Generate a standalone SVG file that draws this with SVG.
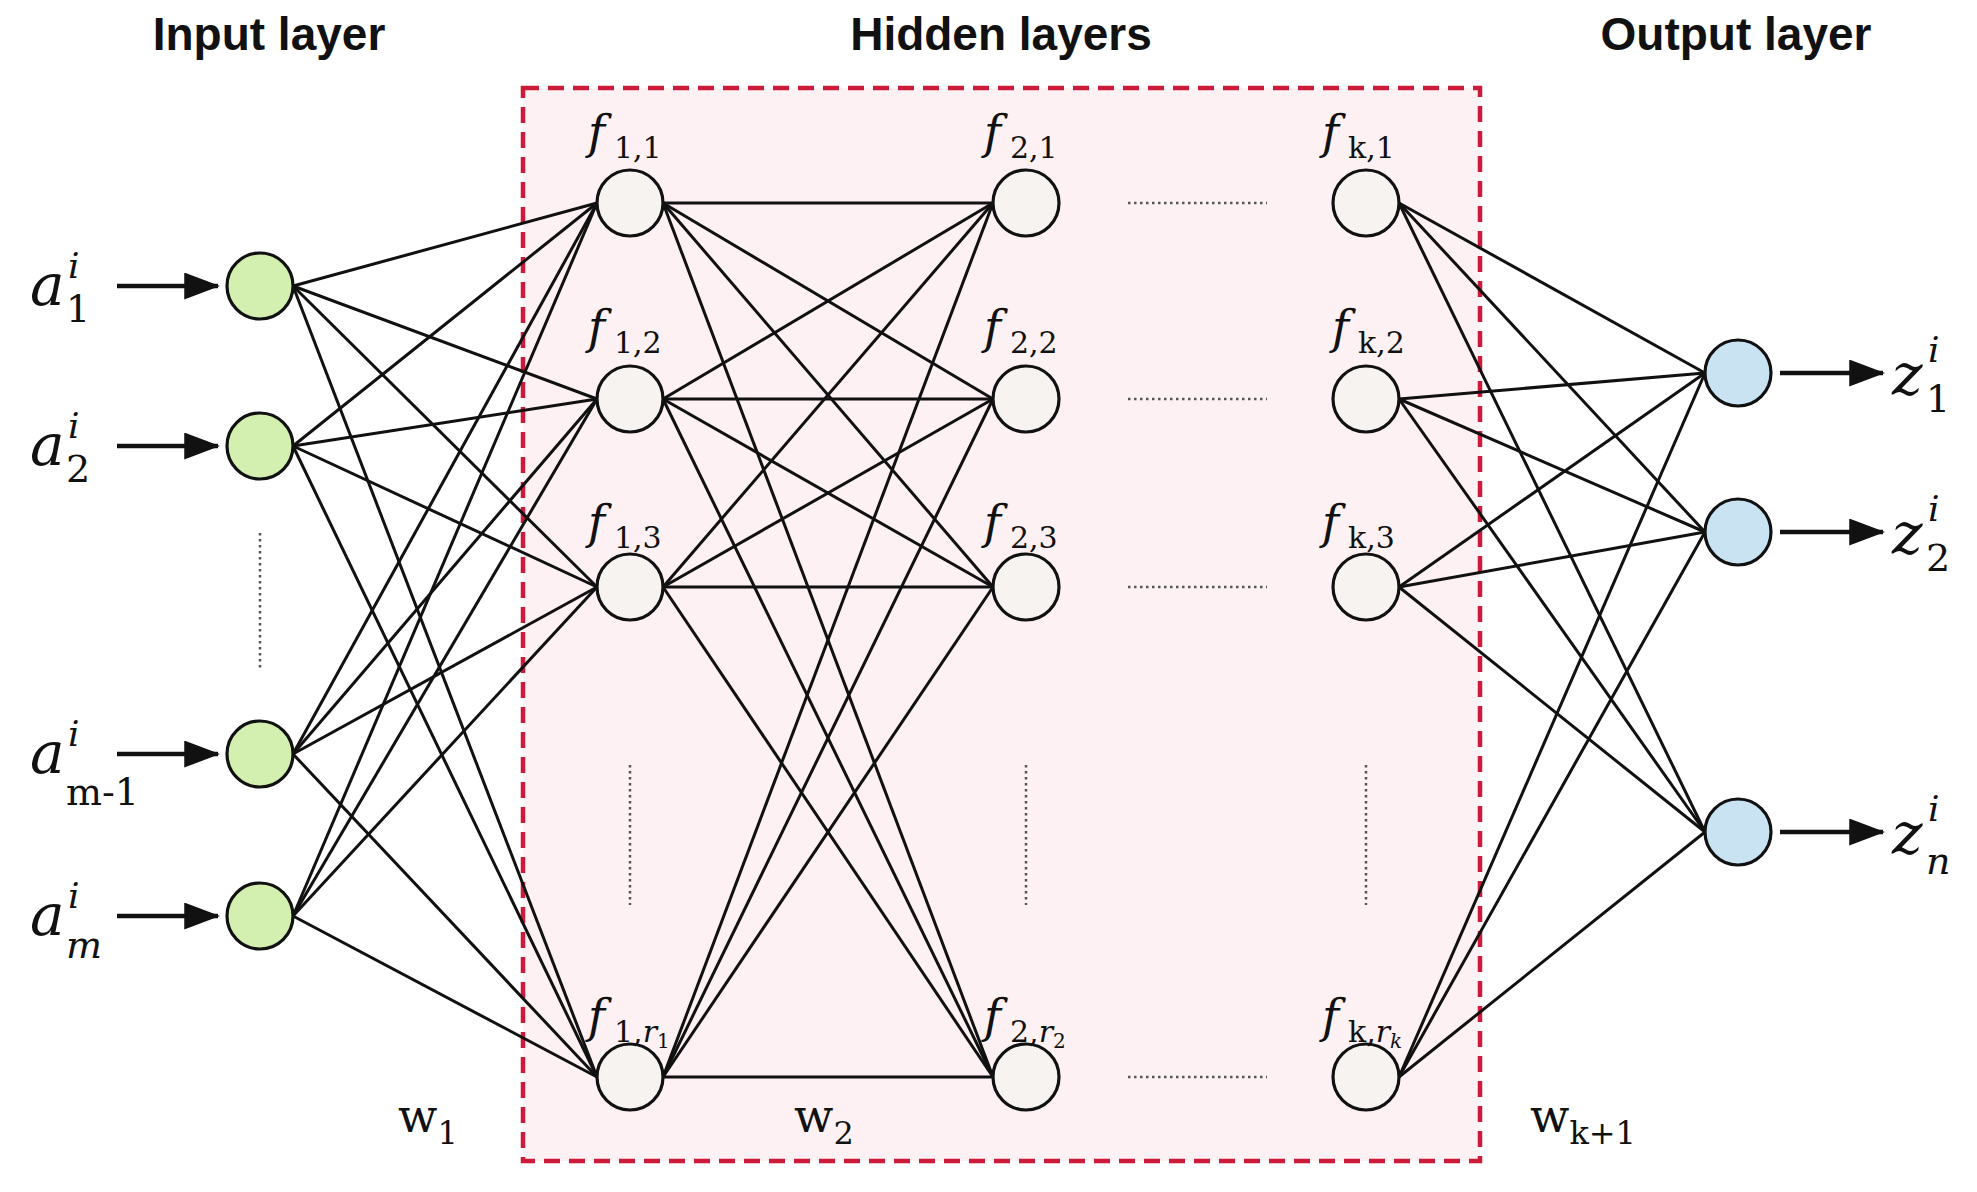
<svg xmlns="http://www.w3.org/2000/svg" width="1977" height="1192" viewBox="0 0 1977 1192">
<style>
.t{font-family:"Liberation Sans",Arial,sans-serif;font-weight:bold;font-size:46px;fill:#111;text-anchor:middle}
.m{font-family:"DejaVu Serif","Liberation Serif",serif;fill:#111}
.e line{stroke:#111;stroke-width:3}
.n{stroke:#111;stroke-width:3.2}
.dot{stroke:#555;stroke-width:2.5;stroke-dasharray:2.5 3.5}
</style>
<defs><marker id="ar" markerWidth="8" markerHeight="6" refX="7.5" refY="3" orient="auto" markerUnits="strokeWidth"><path d="M0,0L8,3L0,6z" fill="#111"/></marker></defs>
<rect width="1977" height="1192" fill="#fff"/>
<rect x="523" y="88" width="957" height="1073" fill="#fdf1f4" stroke="#cc1a3a" stroke-width="4.5" stroke-dasharray="16 9"/>
<text class="t" x="269" y="50">Input layer</text>
<text class="t" x="1001" y="50">Hidden layers</text>
<text class="t" x="1736" y="50">Output layer</text>
<g class="e" id="connectors">
<line x1="293" y1="286" x2="597" y2="203"/><line x1="293" y1="286" x2="597" y2="399"/><line x1="293" y1="286" x2="597" y2="587"/><line x1="293" y1="286" x2="597" y2="1077"/>
<line x1="293" y1="446" x2="597" y2="203"/><line x1="293" y1="446" x2="597" y2="399"/><line x1="293" y1="446" x2="597" y2="587"/><line x1="293" y1="446" x2="597" y2="1077"/>
<line x1="293" y1="754" x2="597" y2="203"/><line x1="293" y1="754" x2="597" y2="399"/><line x1="293" y1="754" x2="597" y2="587"/><line x1="293" y1="754" x2="597" y2="1077"/>
<line x1="293" y1="916" x2="597" y2="203"/><line x1="293" y1="916" x2="597" y2="399"/><line x1="293" y1="916" x2="597" y2="587"/><line x1="293" y1="916" x2="597" y2="1077"/>
<line x1="663" y1="203" x2="993" y2="203"/><line x1="663" y1="203" x2="993" y2="399"/><line x1="663" y1="203" x2="993" y2="587"/><line x1="663" y1="203" x2="993" y2="1077"/>
<line x1="663" y1="399" x2="993" y2="203"/><line x1="663" y1="399" x2="993" y2="399"/><line x1="663" y1="399" x2="993" y2="587"/><line x1="663" y1="399" x2="993" y2="1077"/>
<line x1="663" y1="587" x2="993" y2="203"/><line x1="663" y1="587" x2="993" y2="399"/><line x1="663" y1="587" x2="993" y2="587"/><line x1="663" y1="587" x2="993" y2="1077"/>
<line x1="663" y1="1077" x2="993" y2="203"/><line x1="663" y1="1077" x2="993" y2="399"/><line x1="663" y1="1077" x2="993" y2="587"/><line x1="663" y1="1077" x2="993" y2="1077"/>
<line x1="1399" y1="203" x2="1705" y2="373"/><line x1="1399" y1="203" x2="1705" y2="532"/><line x1="1399" y1="203" x2="1705" y2="832"/>
<line x1="1399" y1="399" x2="1705" y2="373"/><line x1="1399" y1="399" x2="1705" y2="532"/><line x1="1399" y1="399" x2="1705" y2="832"/>
<line x1="1399" y1="587" x2="1705" y2="373"/><line x1="1399" y1="587" x2="1705" y2="532"/><line x1="1399" y1="587" x2="1705" y2="832"/>
<line x1="1399" y1="1077" x2="1705" y2="373"/><line x1="1399" y1="1077" x2="1705" y2="532"/><line x1="1399" y1="1077" x2="1705" y2="832"/>
<g style="stroke-width:4.5"><line x1="117" y1="286" x2="218" y2="286" style="stroke-width:4.5" marker-end="url(#ar)"/><line x1="117" y1="446" x2="218" y2="446" style="stroke-width:4.5" marker-end="url(#ar)"/><line x1="117" y1="754" x2="218" y2="754" style="stroke-width:4.5" marker-end="url(#ar)"/><line x1="117" y1="916" x2="218" y2="916" style="stroke-width:4.5" marker-end="url(#ar)"/>
<line x1="1780" y1="373" x2="1883" y2="373" style="stroke-width:4.5" marker-end="url(#ar)"/><line x1="1780" y1="532" x2="1883" y2="532" style="stroke-width:4.5" marker-end="url(#ar)"/><line x1="1780" y1="832" x2="1883" y2="832" style="stroke-width:4.5" marker-end="url(#ar)"/></g>
</g>
<g id="dots">
<line class="dot" x1="260" y1="533" x2="260" y2="671"/>
<line class="dot" x1="630" y1="765" x2="630" y2="905"/><line class="dot" x1="1026" y1="765" x2="1026" y2="905"/><line class="dot" x1="1366" y1="765" x2="1366" y2="905"/>
<line class="dot" x1="1128" y1="203" x2="1267" y2="203"/><line class="dot" x1="1128" y1="399" x2="1267" y2="399"/><line class="dot" x1="1128" y1="587" x2="1267" y2="587"/><line class="dot" x1="1128" y1="1077" x2="1267" y2="1077"/>
</g>
<g id="input-nodes" fill="#d4f0b0">
<circle id="a1" class="n" cx="260" cy="286" r="33"/><circle id="a2" class="n" cx="260" cy="446" r="33"/><circle id="am1" class="n" cx="260" cy="754" r="33"/><circle id="am" class="n" cx="260" cy="916" r="33"/>
</g>
<g id="hidden-nodes" fill="#f6f3f1">
<circle id="f11" class="n" cx="630" cy="203" r="33"/><circle id="f12" class="n" cx="630" cy="399" r="33"/><circle id="f13" class="n" cx="630" cy="587" r="33"/><circle id="f1r" class="n" cx="630" cy="1077" r="33"/>
<circle id="f21" class="n" cx="1026" cy="203" r="33"/><circle id="f22" class="n" cx="1026" cy="399" r="33"/><circle id="f23" class="n" cx="1026" cy="587" r="33"/><circle id="f2r" class="n" cx="1026" cy="1077" r="33"/>
<circle id="fk1" class="n" cx="1366" cy="203" r="33"/><circle id="fk2" class="n" cx="1366" cy="399" r="33"/><circle id="fk3" class="n" cx="1366" cy="587" r="33"/><circle id="fkr" class="n" cx="1366" cy="1077" r="33"/>
</g>
<g id="output-nodes" fill="#c9e3f3">
<circle id="z1" class="n" cx="1738" cy="373" r="33"/><circle id="z2" class="n" cx="1738" cy="532" r="33"/><circle id="zn" class="n" cx="1738" cy="832" r="33"/>
</g>
<g id="labels" class="m">
<text x="30" y="305" font-size="58" font-style="italic">a</text><text x="68" y="278" font-size="36" font-style="italic">i</text><text x="66" y="322" font-size="38">1</text>
<text x="30" y="465" font-size="58" font-style="italic">a</text><text x="68" y="438" font-size="36" font-style="italic">i</text><text x="66" y="482" font-size="38">2</text>
<text x="30" y="773" font-size="58" font-style="italic">a</text><text x="68" y="746" font-size="36" font-style="italic">i</text><text x="66" y="805" font-size="38">m-1</text>
<text x="30" y="935" font-size="58" font-style="italic">a</text><text x="68" y="908" font-size="36" font-style="italic">i</text><text x="66" y="958" font-size="38" font-style="italic">m</text>
<text x="1892" y="395" font-size="58" font-style="italic">z</text><text x="1928" y="362" font-size="36" font-style="italic">i</text><text x="1926" y="412" font-size="38">1</text>
<text x="1892" y="554" font-size="58" font-style="italic">z</text><text x="1928" y="521" font-size="36" font-style="italic">i</text><text x="1926" y="571" font-size="38">2</text>
<text x="1892" y="854" font-size="58" font-style="italic">z</text><text x="1928" y="821" font-size="36" font-style="italic">i</text><text x="1926" y="874" font-size="38" font-style="italic">n</text>
<g font-size="46" font-style="italic">
<text x="588" y="148">f</text><text x="588" y="343">f</text><text x="588" y="538">f</text><text x="588" y="1032">f</text>
<text x="984" y="148">f</text><text x="984" y="343">f</text><text x="984" y="538">f</text><text x="984" y="1032">f</text>
<text x="1322" y="148">f</text><text x="1332" y="343">f</text><text x="1322" y="538">f</text><text x="1322" y="1032">f</text>
</g>
<g font-size="30">
<text x="614" y="158">1,1</text><text x="614" y="353">1,2</text><text x="614" y="548">1,3</text><text x="614" y="1042">1,<tspan font-style="italic">r</tspan><tspan font-size="20" dy="6">1</tspan></text>
<text x="1010" y="158">2,1</text><text x="1010" y="353">2,2</text><text x="1010" y="548">2,3</text><text x="1010" y="1042">2,<tspan font-style="italic">r</tspan><tspan font-size="20" dy="6">2</tspan></text>
<text x="1348" y="158">k,1</text><text x="1358" y="353">k,2</text><text x="1348" y="548">k,3</text><text x="1348" y="1042">k,<tspan font-style="italic">r</tspan><tspan font-size="20" dy="6" font-style="italic">k</tspan></text>
</g>
<text x="398" y="1132" font-size="46">w<tspan font-size="32" dy="12">1</tspan></text>
<text x="794" y="1132" font-size="46">w<tspan font-size="32" dy="12">2</tspan></text>
<text x="1530" y="1132" font-size="46">w<tspan font-size="32" dy="12">k+1</tspan></text>
</g>
</svg>
